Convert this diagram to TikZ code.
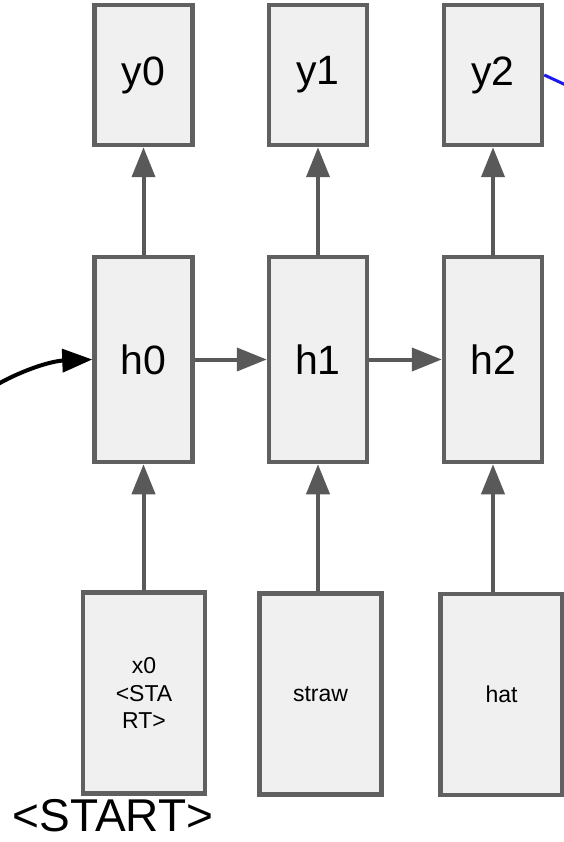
\documentclass[tikz,border=0pt]{standalone}
\usepackage{fontspec}
\setmainfont{Liberation Sans}
\usetikzlibrary{arrows.meta}
\definecolor{cellfill}{HTML}{F0F0F0}
\definecolor{cellline}{HTML}{606060}
\definecolor{flowline}{HTML}{595959}
\definecolor{linkblue}{HTML}{1A1AF0}
\begin{document}
\begin{tikzpicture}[x=1pt, y=-1pt,
  cell/.style={draw=cellline, fill=cellfill, line width=4.5pt, rectangle,
    inner sep=0pt, align=center, text=black},
  bigcell/.style={cell, minimum width=98pt, font=\fontsize{41}{45}\selectfont},
  outcell/.style={bigcell, minimum height=140pt},
  statecell/.style={bigcell, minimum height=205pt},
  incell/.style={cell, minimum width=122pt, minimum height=201pt,
    font=\fontsize{23}{27.5}\selectfont},
  flow/.style={draw=flowline, line width=4pt,
    -{Triangle[length=30pt, width=23pt]}},
]
\useasboundingbox (0,0) rectangle (564,842);

% output cells
\node[outcell] (y0) at (143.5,75) {y0};
\node[outcell] (y1) at (318,75) {y1};
\node[outcell] (y2) at (493,75) {y2};

% hidden state cells
\node[statecell] (h0) at (143.5,359.5) {h0};
\node[statecell] (h1) at (318,359.5) {h1};
\node[statecell] (h2) at (493,359.5) {h2};

% input cells
\node[incell] (x0) at (144,693) {x0\\<STA\\RT>};
\node[incell] (straw) at (320.5,694) {straw};
\node[incell] (hat) at (501.5,694.5) {hat};

% caption under the first input
\node[anchor=base, inner sep=0pt, text depth=0pt,
      font=\fontsize{46}{50}\selectfont] (startlabel)
  at (113,831) {<START>};

% inputs feed the hidden states
\draw[flow] (x0.north -| h0.south) -- (h0.south);
\draw[flow] (straw.north -| h1.south) -- (h1.south);
\draw[flow] (hat.north -| h2.south) -- (h2.south);

% hidden states produce outputs
\draw[flow] (h0.north) -- (y0.south);
\draw[flow] (h1.north) -- (y1.south);
\draw[flow] (h2.north) -- (y2.south);

% recurrence between states
\draw[flow] (h0.east) -- (h1.west);
\draw[flow] (h1.east) -- (h2.west);

% incoming state from the left
\coordinate (prevstate) at (-2,384);
\draw[line width=4pt, black, -{Triangle[length=30pt, width=23pt]}]
  (prevstate) .. controls (25,369) and (52,361) .. (h0.west);

% outgoing link from the last output
\coordinate (nextlink) at (568,86);
\draw[linkblue, line width=3pt] (y2.east) -- (nextlink);
\end{tikzpicture}
\end{document}
